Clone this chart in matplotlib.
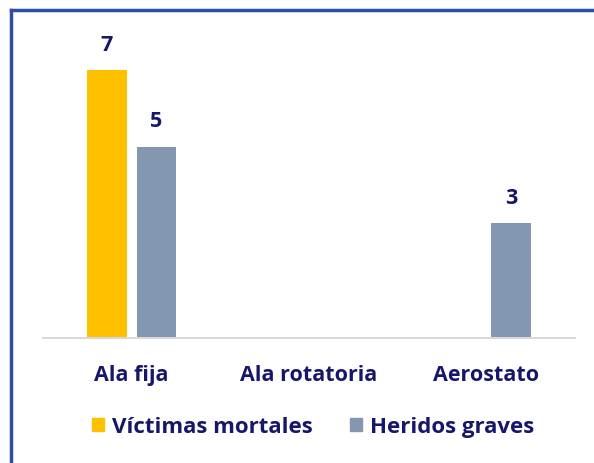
import matplotlib
matplotlib.use("Agg")
import matplotlib.pyplot as plt
import numpy as np
from matplotlib.lines import Line2D

# Data
categories = ["Ala fija", "Ala rotatoria", "Aerostato"]
victimas = [7, 0, 0]
heridos = [5, 0, 3]
series_names = ["Víctimas mortales", "Heridos graves"]

navy = "#16166b"
yellow = "#ffc000"
grey = "#8497b0"

plt.rcParams['font.family'] = ['Open Sans', 'DejaVu Sans']

fig = plt.figure(figsize=(5.94, 4.64), dpi=100)
ax_h = 0.66
ax = fig.add_axes([43 / 594, 1 - 339 / 464, 532 / 594, ax_h])

x = np.arange(len(categories))
w = 0.225
off = 0.14
b1 = ax.bar(x - off, victimas, w, color=yellow)
b2 = ax.bar(x + off, heridos, w, color=grey)

# value labels, only for non-zero bars
for bars, vals in [(b1, victimas), (b2, heridos)]:
    for r, v in zip(bars, vals):
        if v:
            ax.annotate(str(v), (r.get_x() + r.get_width() / 2, v),
                        xytext=(0, 11), textcoords="offset points",
                        ha="center", va="bottom", color=navy,
                        fontsize=15.5, fontweight="bold", annotation_clip=False)

ax.set_xlim(-0.5, 2.5)
ax.set_ylim(0, ax_h * 464 / 38.3)
for s in ["top", "right", "left"]:
    ax.spines[s].set_visible(False)
ax.spines["bottom"].set_color("#d9d9d9")
ax.spines["bottom"].set_linewidth(1.5)
ax.set_yticks([])
ax.set_xticks(x)
ax.set_xticklabels(categories, color=navy, fontsize=15.5, fontweight="bold")
ax.tick_params(axis="x", length=0, pad=19)

handles = [plt.Rectangle((0, 0), 1, 1, color=yellow),
           plt.Rectangle((0, 0), 1, 1, color=grey)]
fig.legend(handles, series_names, loc="center", bbox_to_anchor=(313 / 594, 1 - 428 / 464),
           ncol=2, frameon=False, prop={'size': 16, 'weight': 'bold'},
           handlelength=0.55, handleheight=0.55, handletextpad=0.35, columnspacing=1.7,
           labelcolor=navy)

# blue frame on top and left
fig.add_artist(Line2D([11 / 594, 11 / 594], [0, 1 - 11 / 464], color="#2e4fa8", lw=2.5,
                      transform=fig.transFigure))
fig.add_artist(Line2D([11 / 594, 1], [1 - 11 / 464, 1 - 11 / 464], color="#2e4fa8", lw=2.5,
                      transform=fig.transFigure))

fig.savefig("out.png", dpi=100)
